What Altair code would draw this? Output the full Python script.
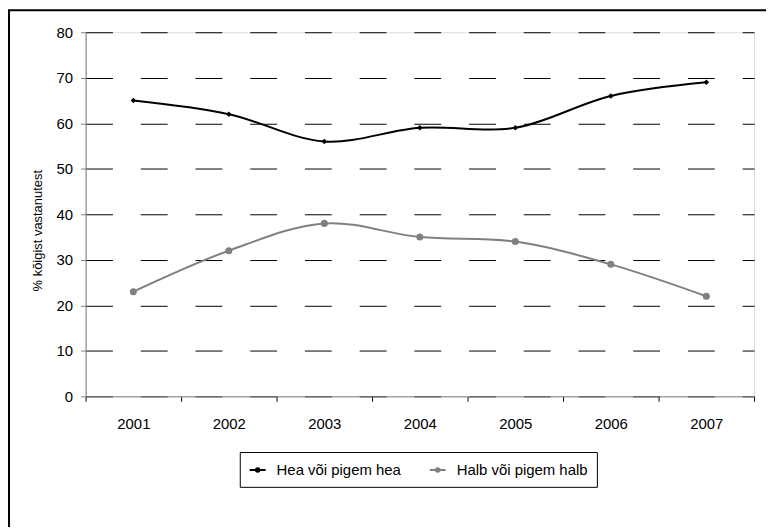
import altair as alt
import pandas as pd

years = ["2001", "2002", "2003", "2004", "2005", "2006", "2007"]
hea = [65, 62, 56, 59, 59, 66, 69]
halb = [23, 32, 38, 35, 34, 29, 22]
series_names = ["Hea või pigem hea", "Halb või pigem halb"]
series_colors = ["#000000", "#808080"]
y_ticks = [0, 10, 20, 30, 40, 50, 60, 70, 80]
y_title = "% kõigist vastanutest"

rows = []
for name, vals in zip(series_names, [hea, halb]):
    for yr, v in zip(years, vals):
        rows.append({"year": yr, "value": v, "series": name})
df = pd.DataFrame(rows)

FONT = "Liberation Sans"

x_enc = alt.X("year:N", sort=years,
              scale=alt.Scale(type="band", paddingInner=0, paddingOuter=0),
              axis=alt.Axis(title=None, tickBand="extent", labelAngle=0,
                            labelPadding=15, tickSize=5, grid=False,
                            domainColor="#808080", tickColor="#000000",
                            labelFont=FONT, labelFontSize=15, labelColor="#000"))
y_enc = alt.Y("value:Q", scale=alt.Scale(domain=[0, 80], nice=False),
              axis=alt.Axis(values=y_ticks, title=y_title, tickSize=5,
                            labelPadding=8, domainColor="#808080",
                            tickColor="#808080", grid=True, gridColor="#000000",
                            gridDash=[27, 28], gridWidth=1,
                            labelFont=FONT, labelFontSize=15, labelColor="#000",
                            titleFont=FONT, titleFontSize=13, titleFontWeight="normal",
                            titleColor="#000", titlePadding=12, titleY=199))

color_scale = alt.Scale(domain=series_names, range=series_colors)

legend_symbol = ("M-1,0H1"
                 "M0.22,0A0.22,0.22,0,1,1,-0.22,0A0.22,0.22,0,1,1,0.22,0Z"
                 "M0.08,0A0.08,0.08,0,1,1,-0.08,0A0.08,0.08,0,1,1,0.08,0Z")

lines = alt.Chart(df).mark_line(interpolate="catmull-rom", strokeWidth=2).encode(
    x=x_enc, y=y_enc,
    color=alt.Color("series:N", scale=color_scale, sort=series_names,
                    legend=alt.Legend(
                        title=None, orient="none", legendX=155, legendY=422,
                        direction="horizontal", columns=2,
                        symbolType=legend_symbol,
                        symbolSize=256, symbolStrokeWidth=2,
                        labelFont=FONT, labelFontSize=15, labelColor="#000",
                        strokeColor="#000000", padding=9, columnPadding=24,
                        labelOffset=10, cornerRadius=0)),
)

pts_hea = alt.Chart(df).transform_filter(
    alt.datum.series == series_names[0]
).mark_point(filled=True, opacity=1, shape="diamond", size=30, color=series_colors[0]).encode(
    x=x_enc, y=y_enc)

pts_halb = alt.Chart(df).transform_filter(
    alt.datum.series == series_names[1]
).mark_point(filled=True, opacity=1, shape="circle", size=50, color=series_colors[1]).encode(
    x=x_enc, y=y_enc)

frame = alt.Chart(pd.DataFrame({"a": [0]})).mark_rect(
    fill=None, stroke="#000000", strokeWidth=2
).encode(
    x=alt.value(-77), x2=alt.value(760), y=alt.value(-22), y2=alt.value(560)
)

chart = alt.layer(frame, lines, pts_hea, pts_halb).properties(
    width=672, height=366,
    padding={"left": 78, "top": 23, "right": 12, "bottom": 130},
    autosize=alt.AutoSizeParams(type="none"),
).configure_view(stroke=None).configure(background="white")

chart.save("out.html", embed_options={"renderer": "svg", "actions": False})
